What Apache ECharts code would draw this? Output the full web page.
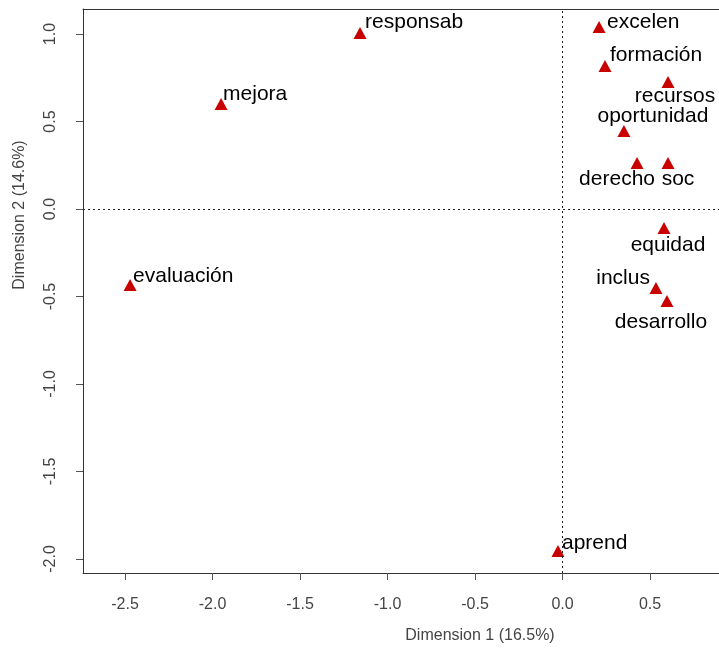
<!DOCTYPE html>
<html>
<head>
<meta charset="utf-8">
<script src="https://cdn.jsdelivr.net/npm/echarts@6/dist/echarts.min.js"></script>
<style>
  html, body { margin: 0; padding: 0; background: #fff; }
  #chart { width: 719px; height: 648px; }
</style>
</head>
<body>
<div id="chart"></div>
<script>
// category names and their coordinates on the two dimensions
const terms = ['responsab', 'mejora', 'evaluación', 'excelen', 'formación', 'recursos',
  'oportunidad', 'derecho', 'soc', 'equidad', 'inclus', 'desarrollo', 'aprend'];
const dim1 = [-1.157, -1.951, -2.471, 0.209, 0.243, 0.603, 0.351, 0.426, 0.603, 0.580, 0.534, 0.597, -0.026];
const dim2 = [1.006, 0.600, -0.434, 1.040, 0.817, 0.726, 0.446, 0.263, 0.263, -0.109, -0.451, -0.526, -1.954];

const xTicks = [-2.5, -2.0, -1.5, -1.0, -0.5, 0.0, 0.5];
const yTicks = [-2.0, -1.5, -1.0, -0.5, 0.0, 0.5, 1.0];

const xTitle = 'Dimension 1 (16.5%)';
const yTitle = 'Dimension 2 (14.6%)';

// where each label sits relative to its marker (align, dx, dy)
const labelPlace = {
  'responsab': ['left', 5, -11],
  'mejora': ['left', 2, -10],
  'evaluación': ['left', 3, -9],
  'excelen': ['left', 8, -5],
  'formación': ['left', 5, -11],
  'recursos': ['center', 7, 14],
  'oportunidad': ['center', 29, -15],
  'derecho': ['center', -20, 16],
  'soc': ['center', 10, 16],
  'equidad': ['center', 4, 17],
  'inclus': ['right', -6, -10],
  'desarrollo': ['center', -6, 21],
  'aprend': ['left', 4, -8]
};

const FONT = '"Liberation Sans", Arial, sans-serif';
const fmt = v => v.toFixed(1);

const points = terms.map((name, i) => {
  const [align, dx, dy] = labelPlace[name];
  return {
    name: name,
    value: [dim1[i], dim2[i]],
    label: { align: align, offset: [dx, dy] }
  };
});

const chart = echarts.init(document.getElementById('chart'), null, { renderer: 'canvas' });

const frame = { show: true, onZero: false, lineStyle: { color: '#333', width: 1 } };

chart.setOption({
  animation: false,
  backgroundColor: '#fff',
  grid: { left: 83, top: 9, width: 636, height: 564 },
  xAxis: [{
    type: 'value',
    min: -2.74, max: -2.74 + 636 / 175,
    splitLine: { show: false },
    axisLine: frame,
    axisTick: { show: true, customValues: xTicks, length: 7, lineStyle: { color: '#555' } },
    axisLabel: {
      customValues: xTicks, formatter: fmt, margin: 24,
      color: '#444', fontSize: 16, fontFamily: FONT
    }
  }, {
    // top edge of the frame only
    type: 'value', position: 'top',
    min: -2.74, max: -2.74 + 636 / 175,
    splitLine: { show: false },
    axisLine: frame,
    axisTick: { show: false },
    axisLabel: { show: false }
  }],
  yAxis: {
    type: 'value',
    min: -2.08, max: 1.143,
    splitLine: { show: false },
    axisLine: frame,
    axisTick: { show: true, customValues: yTicks, length: 7, lineStyle: { color: '#555' } },
    axisLabel: {
      customValues: yTicks, formatter: fmt, margin: 24, rotate: 90,
      color: '#444', fontSize: 16, fontFamily: FONT
    }
  },
  graphic: [
    {
      type: 'text', x: 480, y: 636,
      style: { text: xTitle, fill: '#444', font: '16px ' + FONT, align: 'center', verticalAlign: 'middle' }
    },
    {
      type: 'text', x: 20, y: 215, rotation: Math.PI / 2,
      style: { text: yTitle, fill: '#444', font: '16px ' + FONT, align: 'center', verticalAlign: 'middle' }
    }
  ],
  series: [{
    type: 'scatter',
    symbol: 'triangle',
    symbolSize: [13, 12],
    itemStyle: { color: '#c80000', opacity: 1 },
    label: {
      show: true,
      position: 'inside',
      formatter: '{b}',
      color: '#000',
      fontSize: 21,
      fontFamily: FONT,
      verticalAlign: 'middle'
    },
    data: points,
    markLine: {
      silent: true,
      symbol: 'none',
      label: { show: false },
      lineStyle: { color: '#222', type: [2, 3], width: 1 },
      data: [{ xAxis: 0 }, { yAxis: 0 }]
    }
  }]
});
</script>
</body>
</html>
